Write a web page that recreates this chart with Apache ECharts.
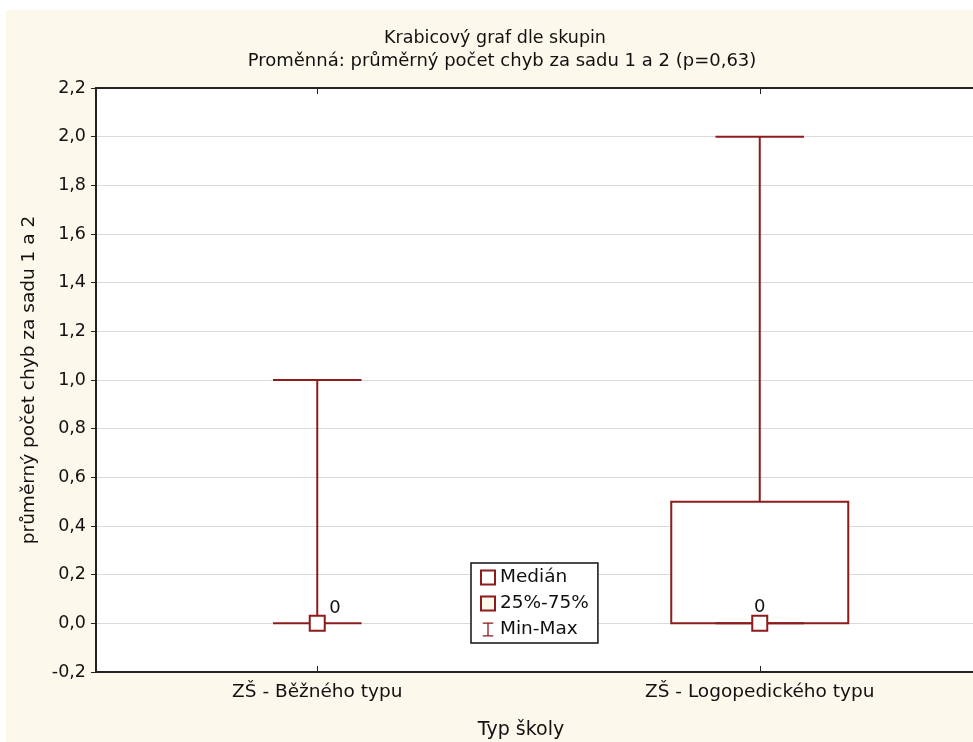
<!DOCTYPE html>
<html>
<head>
<meta charset="utf-8">
<script src="https://cdn.jsdelivr.net/npm/echarts@6/dist/echarts.min.js"></script>
<style>
html,body{margin:0;padding:0;background:#fff;}
#wrap{position:relative;width:973px;height:742px;overflow:hidden;}
#bg{position:absolute;left:6px;top:10px;right:0;bottom:0;background:#FDF8EC;}
#chart{position:absolute;left:0;top:0;width:973px;height:742px;}
</style>
</head>
<body>
<div id="wrap"><div id="bg"></div><div id="chart"></div></div>
<script>
// ---- data ----
const categories = ['ZŠ - Běžného typu', 'ZŠ - Logopedického typu'];
const minValues = [0, 0];
const q1Values = [0, 0];
const medianValues = [0, 0];
const q3Values = [0, 0.5];
const maxValues = [1, 2];
const yTicks = [-0.2, 2.2, 0.2]; // min, max, step

const RED = '#8E1B1B';
const FONT = 'DejaVu Sans';
const fmt = v => (Math.round(v * 10) / 10).toFixed(1).replace('.', ',');

const whiskerData = categories.map((c, i) => [i, minValues[i], q1Values[i], q3Values[i], maxValues[i]]);
const boxData = categories.map((c, i) => [i, q1Values[i], q3Values[i]]);
const medianData = categories.map((c, i) => ({
  value: [i, medianValues[i]],
  label: i === 0 ? { position: 'insideTopRight', offset: [20, -21] } : { position: 'top', distance: 0, offset: [0, 1] }
}));

function renderWhisker(params, api) {
  const x = api.value(0);
  const mn = api.coord([x, api.value(1)]);
  const q1 = api.coord([x, api.value(2)]);
  const q3 = api.coord([x, api.value(3)]);
  const mx = api.coord([x, api.value(4)]);
  const band = api.size([1, 0])[0];
  const half = band * 0.1;
  const style = { stroke: RED, lineWidth: 2, fill: null };
  const children = [];
  if (q1[1] !== mn[1]) children.push({ type: 'line', shape: { x1: mn[0], y1: mn[1], x2: q1[0], y2: q1[1] }, style });
  if (q3[1] !== mx[1]) children.push({ type: 'line', shape: { x1: q3[0], y1: q3[1], x2: mx[0], y2: mx[1] }, style });
  children.push({ type: 'line', shape: { x1: mn[0] - half, y1: mn[1], x2: mn[0] + half, y2: mn[1] }, style });
  children.push({ type: 'line', shape: { x1: mx[0] - half, y1: mx[1], x2: mx[0] + half, y2: mx[1] }, style });
  return { type: 'group', children };
}

function renderBox(params, api) {
  const x = api.value(0);
  const lo = api.coord([x, api.value(1)]);
  const hi = api.coord([x, api.value(2)]);
  const band = api.size([1, 0])[0];
  const w = band * 0.4;
  if (Math.abs(lo[1] - hi[1]) < 0.5) return null;
  return {
    type: 'rect',
    shape: { x: lo[0] - w / 2, y: hi[1], width: w, height: lo[1] - hi[1] },
    style: { stroke: RED, lineWidth: 2, fill: '#ffffff' }
  };
}

const chart = echarts.init(document.getElementById('chart'));
chart.setOption({
  backgroundColor: 'transparent',
  animation: false,
  textStyle: { fontFamily: FONT },
  title: [
    {
      text: 'Krabicový graf dle skupin', left: 490, top: 24, textAlign: 'center',
      textStyle: { fontFamily: FONT, fontSize: 17.5, fontWeight: 'normal', color: '#111' }
    },
    {
      text: 'Proměnná: průměrný počet chyb za sadu 1 a 2 (p=0,63)', left: 497, top: 47, textAlign: 'center',
      textStyle: { fontFamily: FONT, fontSize: 18, fontWeight: 'normal', color: '#111' }
    },
    {
      text: 'Typ školy', left: 516, top: 716, textAlign: 'center',
      textStyle: { fontFamily: FONT, fontSize: 19, fontWeight: 'normal', color: '#111' }
    }
  ],
  grid: {
    left: 96, width: 885, top: 88, bottom: 70, outerBoundsMode: 'none', containLabel: false,
    show: true, backgroundColor: '#ffffff', borderColor: '#222', borderWidth: 2
  },
  legend: {
    orient: 'vertical', left: 471, top: 563,
    backgroundColor: '#ffffff', borderColor: '#111', borderWidth: 1.5,
    padding: [5, 9, 4, 9], itemGap: 7, itemWidth: 14, itemHeight: 14,
    textStyle: { fontFamily: FONT, fontSize: 18.5, color: '#111', lineHeight: 18 },
    data: [
      { name: 'Medián', icon: 'rect', itemStyle: { color: '#ffffff', borderColor: RED, borderWidth: 2 } },
      { name: '25%-75%', icon: 'rect', itemStyle: { color: '#FDF8EC', borderColor: RED, borderWidth: 2 } },
      { name: 'Min-Max', icon: 'path://M0,0H12V1.5H0Z M5.25,1.5H6.75V14.5H5.25Z M0,14.5H12V16H0Z', itemStyle: { color: RED, borderWidth: 0 } }
    ]
  },
  xAxis: [
    {
      type: 'category', data: categories, position: 'bottom',
      axisLine: { onZero: false, lineStyle: { color: '#222', width: 2 } },
      axisTick: { show: true, inside: true, alignWithLabel: true, length: 6, lineStyle: { color: '#222' } },
      axisLabel: { fontFamily: FONT, fontSize: 18.5, color: '#111', margin: 11 },
      splitLine: { show: false }
    },
    {
      type: 'category', data: categories, position: 'top',
      axisLine: { onZero: false, lineStyle: { color: '#222', width: 2 } },
      axisTick: { show: true, inside: true, alignWithLabel: true, length: 6, lineStyle: { color: '#222' } },
      axisLabel: { show: false }, splitLine: { show: false }
    }
  ],
  yAxis: {
    type: 'value', min: yTicks[0], max: yTicks[1], interval: yTicks[2],
    name: 'průměrný počet chyb za sadu 1 a 2', nameLocation: 'middle', nameGap: 57,
    nameTextStyle: { fontFamily: FONT, fontSize: 18.5, color: '#111' },
    axisLine: { show: true, onZero: false, lineStyle: { color: '#222', width: 2 } },
    axisTick: { show: true, inside: false, length: 5, lineStyle: { color: '#222' } },
    axisLabel: { fontFamily: FONT, fontSize: 17.5, color: '#111', margin: 10, formatter: fmt },
    splitLine: { show: true, lineStyle: { color: '#dadada', width: 1 } }
  },
  series: [
    { name: '25%-75%', type: 'custom', renderItem: renderBox, data: boxData, encode: { x: 0, y: [1, 2] }, itemStyle: { color: RED }, z: 2 },
    { name: 'Min-Max', type: 'custom', renderItem: renderWhisker, data: whiskerData, encode: { x: 0, y: [1, 2, 3, 4] }, itemStyle: { color: RED }, z: 3 },
    {
      name: 'Medián', type: 'scatter', data: medianData, symbol: 'rect', symbolSize: 15, z: 4,
      itemStyle: { color: '#ffffff', borderColor: RED, borderWidth: 2, opacity: 1 },
      label: { show: true, formatter: p => String(p.value[1]), fontFamily: FONT, fontSize: 18, color: '#111' }
    }
  ]
});
</script>
</body>
</html>
